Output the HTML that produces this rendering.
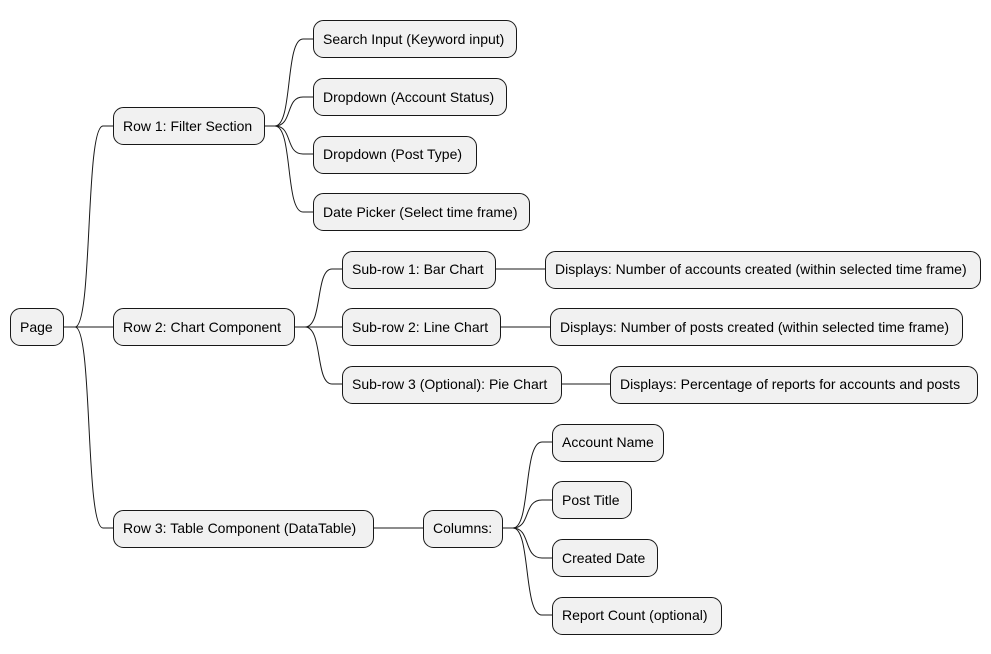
<!DOCTYPE html>
<html><head><meta charset="utf-8"><style>
html,body{margin:0;padding:0;background:#fff;}
svg{display:block;}
text{font-family:"Liberation Sans",sans-serif;font-size:14px;fill:#000;}
rect{fill:#F1F1F1;stroke:#181818;stroke-width:1;}
path{fill:none;stroke:#181818;stroke-width:1;}
</style></head><body>
<svg width="991" height="654" viewBox="0 0 991 654" xmlns="http://www.w3.org/2000/svg">
<path d="M63.5 327 L75 327 C93 327 85 126 103 126 L113 126"/>
<path d="M63.5 327 L113 327"/>
<path d="M63.5 327 L75 327 C93 327 85 528 103 528 L113 528"/>

<path d="M264.5 126 L275 126 C293 126 285 39 303 39 L313 39"/>
<path d="M264.5 126 L275 126 C293 126 285 97 303 97 L313 97"/>
<path d="M264.5 126 L275 126 C293 126 285 154 303 154 L313 154"/>
<path d="M264.5 126 L275 126 C293 126 285 212 303 212 L313 212"/>

<path d="M294.5 327 L305 327 C323 327 315 269 332 269 L342 269"/>
<path d="M294.5 327 L342 327"/>
<path d="M294.5 327 L305 327 C323 327 315 384 332 384 L342 384"/>

<path d="M495.5 269 L545 269"/>
<path d="M500.5 327 L550 327"/>
<path d="M561.5 384 L610 384"/>

<path d="M373.5 528 L423 528"/>
<path d="M502.5 528 L513 528 C531 528 523 442 542 442 L552 442"/>
<path d="M502.5 528 L513 528 C531 528 523 500 542 500 L552 500"/>
<path d="M502.5 528 L513 528 C531 528 523 558 542 558 L552 558"/>
<path d="M502.5 528 L513 528 C531 528 523 615 542 615 L552 615"/>

<rect x="10.5" y="308.5" width="53" height="37" rx="10"/><text x="20" y="332">Page</text>
<rect x="113.5" y="107.5" width="151" height="37" rx="10"/><text x="123" y="131">Row 1: Filter Section</text>
<rect x="113.5" y="308.5" width="181" height="37" rx="10"/><text x="123" y="332">Row 2: Chart Component</text>
<rect x="113.5" y="510.5" width="260" height="37" rx="10"/><text x="123" y="533">Row 3: Table Component (DataTable)</text>

<rect x="313.5" y="20.5" width="203" height="37" rx="10"/><text x="323" y="44">Search Input (Keyword input)</text>
<rect x="313.5" y="78.5" width="193" height="37" rx="10"/><text x="323" y="102">Dropdown (Account Status)</text>
<rect x="313.5" y="136.5" width="163" height="37" rx="10"/><text x="323" y="159">Dropdown (Post Type)</text>
<rect x="313.5" y="193.5" width="216" height="37" rx="10"/><text x="323" y="217">Date Picker (Select time frame)</text>

<rect x="342.5" y="251.5" width="153" height="37" rx="10"/><text x="352" y="274">Sub-row 1: Bar Chart</text>
<rect x="342.5" y="308.5" width="158" height="37" rx="10"/><text x="352" y="332">Sub-row 2: Line Chart</text>
<rect x="342.5" y="366.5" width="219" height="37" rx="10"/><text x="352" y="389">Sub-row 3 (Optional): Pie Chart</text>

<rect x="545.5" y="251.5" width="435" height="37" rx="10"/><text x="555" y="274">Displays: Number of accounts created (within selected time frame)</text>
<rect x="550.5" y="308.5" width="412" height="37" rx="10"/><text x="560" y="332">Displays: Number of posts created (within selected time frame)</text>
<rect x="610.5" y="366.5" width="367" height="37" rx="10"/><text x="620" y="389">Displays: Percentage of reports for accounts and posts</text>

<rect x="423.5" y="510.5" width="79" height="37" rx="10"/><text x="433" y="533">Columns:</text>
<rect x="552.5" y="424.5" width="111" height="37" rx="10"/><text x="562" y="447">Account Name</text>
<rect x="552.5" y="481.5" width="79" height="37" rx="10"/><text x="562" y="505">Post Title</text>
<rect x="552.5" y="539.5" width="105" height="37" rx="10"/><text x="562" y="563">Created Date</text>
<rect x="552.5" y="597.5" width="169" height="37" rx="10"/><text x="562" y="620">Report Count (optional)</text>
</svg>
</body></html>
